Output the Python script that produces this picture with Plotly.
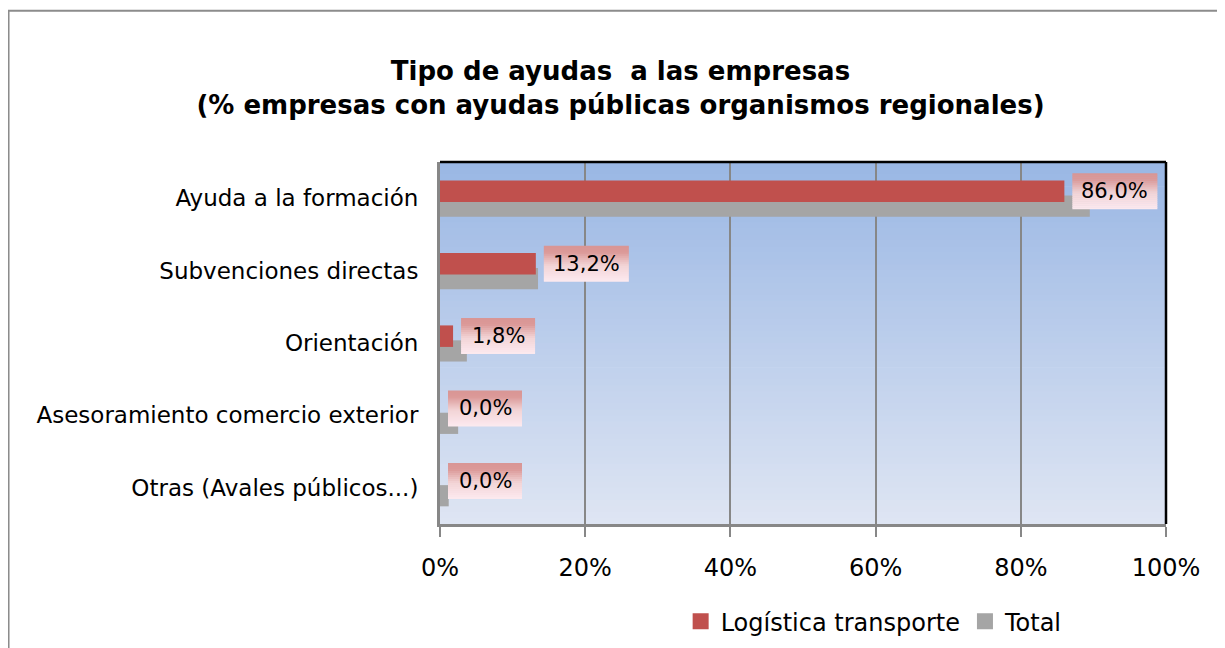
import plotly.graph_objects as go

categories = ["Ayuda a la formación", "Subvenciones directas", "Orientación",
              "Asesoramiento comercio exterior", "Otras (Avales públicos...)"]
logistica = [86.0, 13.2, 1.8, 0.0, 0.0]
total = [89.5, 13.5, 3.7, 2.5, 1.2]
x_ticks = [0, 20, 40, 60, 80, 100]
x_ticktext = ["0%", "20%", "40%", "60%", "80%", "100%"]
series_names = ["Logística transporte", "Total"]

RED = "#c0504d"
GRAY = "#a5a5a5"
FONT = "DejaVu Sans"

fig = go.Figure()
fig.add_trace(go.Bar(
    y=categories, x=total, orientation="h", name=series_names[1],
    marker=dict(color=GRAY, line=dict(width=0)),
    offset=-0.037, width=0.293, showlegend=False, hoverinfo="x+y",
))
fig.add_trace(go.Bar(
    y=categories, x=logistica, orientation="h", name=series_names[0],
    marker=dict(color=RED, line=dict(width=0)),
    offset=-0.243, width=0.297, showlegend=False, hoverinfo="x+y",
))
# legend entries with larger square swatches
for nm, col, rk in [(series_names[0], RED, 1), (series_names[1], GRAY, 2)]:
    fig.add_trace(go.Scatter(x=[None], y=[None], mode="markers", name=nm,
                             marker=dict(symbol="square", size=23, color=col),
                             legendrank=rk, showlegend=True))

shapes = []
# plot-area vertical gradient background
top_c = (154, 183, 228)
bot_c = (222, 229, 243)
nb = 60
for k in range(nb):
    t = k / (nb - 1)
    c = tuple(round(top_c[j] + (bot_c[j] - top_c[j]) * t) for j in range(3))
    shapes.append(dict(type="rect", xref="x domain", yref="y domain",
                       x0=0, x1=1, y0=1 - k / nb, y1=1 - (k + 1) / nb - 0.002,
                       fillcolor="rgb(%d,%d,%d)" % c, line=dict(width=0), layer="below"))

# data label boxes with gradient
stops = [(0.0, (217, 149, 148)), (0.18, (219, 153, 152)), (0.55, (242, 212, 214)), (1.0, (253, 234, 240))]
def grad(t):
    for (t0, c0), (t1, c1) in zip(stops[:-1], stops[1:]):
        if t <= t1:
            u = (t - t0) / (t1 - t0)
            return tuple(round(c0[j] + (c1[j] - c0[j]) * u) for j in range(3))
    return stops[-1][1]

annotations = []
BOX_H = 36
for i, v in enumerate(logistica):
    txt = ("%.1f%%" % v).replace(".", ",")
    w = 74 + 11 * (len(txt) - 4)
    yc = i - 0.0955
    nbx = 18
    for k in range(nbx):
        t = (k + 0.5) / nbx
        c = grad(t)
        y_top = BOX_H / 2 - k * BOX_H / nbx
        y_bot = BOX_H / 2 - (k + 1) * BOX_H / nbx - 0.5
        shapes.append(dict(type="rect", xref="x", yref="y",
                           xsizemode="pixel", ysizemode="pixel",
                           xanchor=v, yanchor=yc,
                           x0=8, x1=8 + w, y0=y_top, y1=max(y_bot, -BOX_H / 2),
                           fillcolor="rgb(%d,%d,%d)" % c, line=dict(width=0), layer="above"))
    annotations.append(dict(x=v, y=yc, xref="x", yref="y", text=txt, showarrow=False,
                            xanchor="center", yanchor="middle", xshift=8 + w / 2,
                            font=dict(family=FONT, size=21, color="#000000")))

# plot frame: black top and right
shapes.append(dict(type="line", xref="x domain", yref="y domain", x0=0, x1=1, y0=1, y1=1,
                   line=dict(color="#000000", width=2.5), layer="above"))
shapes.append(dict(type="line", xref="x domain", yref="y domain", x0=1, x1=1, y0=0, y1=1,
                   line=dict(color="#000000", width=2.5), layer="above"))
# outer chart border
shapes.append(dict(type="rect", xref="paper", yref="paper", x0=-0.5943, x1=1.1, y0=-0.4, y1=1.418,
                   line=dict(color="#8c8c8c", width=2), fillcolor="rgba(0,0,0,0)", layer="below"))

fig.update_layout(
    width=1225, height=648,
    margin=dict(l=432, r=67, t=154, b=128),
    paper_bgcolor="#ffffff", plot_bgcolor="#ffffff",
    barmode="overlay",
    title=dict(text="<b>Tipo de ayudas  a las empresas<br>(% empresas con ayudas públicas organismos regionales)</b>",
               x=0.5, xref="container", xanchor="center",
               y=1 - 72 / 648, yref="container", yanchor="top",
               font=dict(family=FONT, size=26, color="#000000")),
    font=dict(family=FONT, color="#000000"),
    xaxis=dict(range=[0, 100], tickvals=x_ticks, ticktext=x_ticktext,
               showgrid=True, gridcolor="#878787", gridwidth=2,
               showline=True, linecolor="#878787", linewidth=2.5,
               ticks="outside", ticklen=10, tickwidth=2, tickcolor="#878787",
               ticklabelstandoff=10,
               tickfont=dict(family=FONT, size=24, color="#000000"),
               zeroline=False, fixedrange=True),
    yaxis=dict(type="category", range=[4.5, -0.5],
               showgrid=False, showline=True, linecolor="#878787", linewidth=3,
               ticks="", ticklabelstandoff=14,
               tickfont=dict(family=FONT, size=23, color="#000000"),
               zeroline=False, fixedrange=True),
    legend=dict(orientation="h", x=0.598, y=-0.27, xanchor="center", yanchor="middle",
                font=dict(family=FONT, size=24, color="#000000"),
                bgcolor="rgba(0,0,0,0)", itemwidth=30, tracegroupgap=0),
    shapes=shapes,
    annotations=annotations,
    showlegend=True,
)

fig.write_html("out.html")
